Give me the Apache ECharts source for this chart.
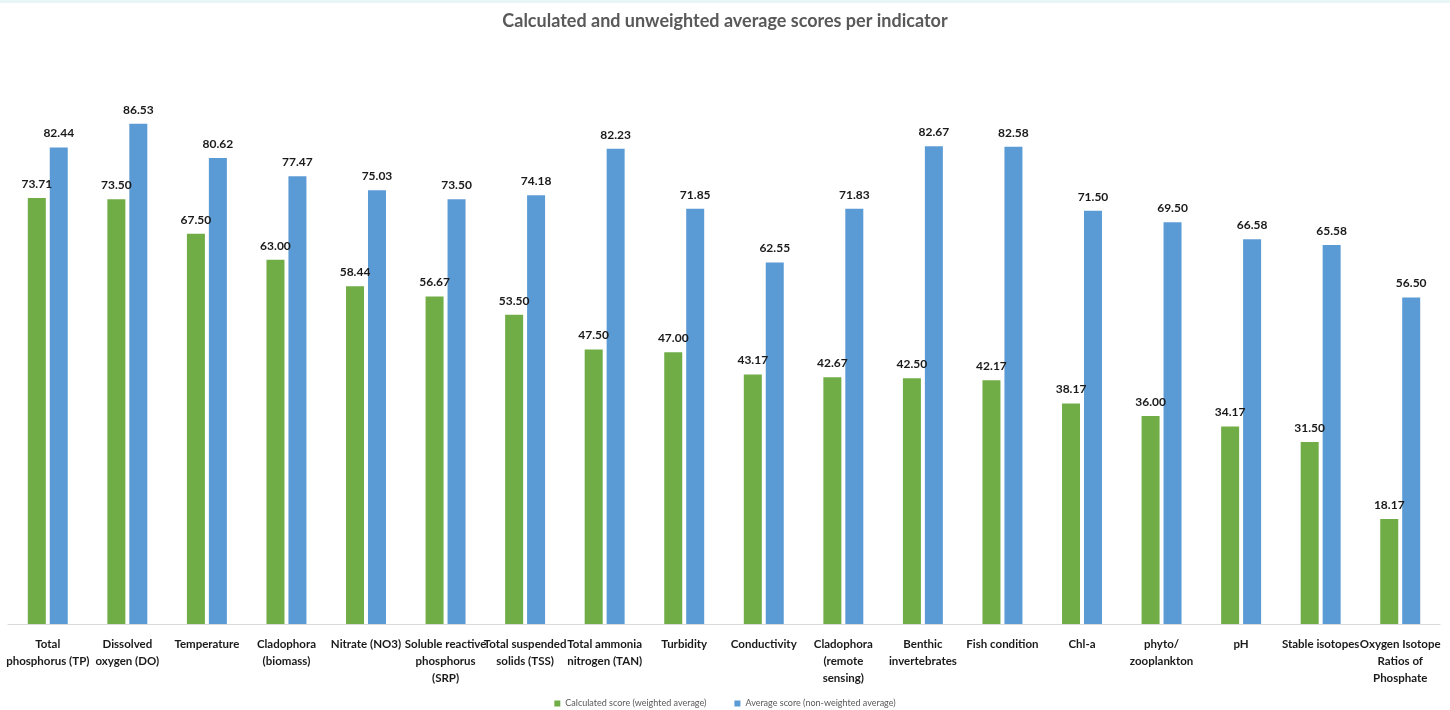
<!DOCTYPE html>
<html><head><meta charset="utf-8">
<script src="https://cdn.jsdelivr.net/npm/echarts@6/dist/echarts.min.js"></script>
<style>html,body{margin:0;padding:0;background:#fff}#c{width:1450px;height:710px}</style>
</head><body><div id="c"></div>
<script>
const categories = ["Total\nphosphorus (TP)","Dissolved\noxygen (DO)","Temperature","Cladophora\n(biomass)","Nitrate (NO3)","Soluble reactive\nphosphorus\n(SRP)","Total suspended\nsolids (TSS)","Total ammonia\nnitrogen (TAN)","Turbidity","Conductivity","Cladophora\n(remote\nsensing)","Benthic\ninvertebrates","Fish condition","Chl-a","phyto/\nzooplankton","pH","Stable isotopes","Oxygen Isotope\nRatios of\nPhosphate"];
const calculated = [73.71,73.50,67.50,63.00,58.44,56.67,53.50,47.50,47.00,43.17,42.67,42.50,42.17,38.17,36.00,34.17,31.50,18.17];
const average = [82.44,86.53,80.62,77.47,75.03,73.50,74.18,82.23,71.85,62.55,71.83,82.67,82.58,71.50,69.50,66.58,65.58,56.50];
const seriesNames = ["Calculated score (weighted average)","Average score (non-weighted average)"];

const chart = echarts.init(document.getElementById('c'));
const lbl = {show:true,position:'top',distance:8,formatter:p=>p.value.toFixed(2),fontFamily:'Lato',fontWeight:'bold',fontSize:12,color:'#1a1a1a'};
chart.setOption({
  animation:false,
  graphic:[{type:'rect',shape:{x:0,y:0,width:1450,height:3},style:{fill:'#e8f6f8'}}],
  title:{text:'Calculated and unweighted average scores per indicator',left:'center',top:7,
    textStyle:{fontFamily:'Lato',fontWeight:'bold',fontSize:18,color:'#595959'}},
  legend:{bottom:-3,left:'center',itemWidth:6,itemHeight:6,itemGap:28,icon:'rect',
    textStyle:{fontFamily:'Lato',fontSize:9,color:'#595959'}},
  grid:{left:8,right:10,top:46,bottom:86,containLabel:false},
  xAxis:{type:'category',data:categories,
    axisLine:{lineStyle:{color:'#d9d9d9'}},axisTick:{show:false},
    axisLabel:{interval:0,margin:12,lineHeight:17,fontFamily:'Lato',fontWeight:'bold',fontSize:11.5,color:'#1a1a1a'}},
  yAxis:{type:'value',min:0,max:100,show:false,splitLine:{show:false}},
  series:[
    {name:seriesNames[0],type:'bar',data:calculated,barWidth:18,barGap:'22%',itemStyle:{color:'#70AD47'},label:lbl},
    {name:seriesNames[1],type:'bar',data:average,barWidth:18,itemStyle:{color:'#5B9BD5'},label:lbl}
  ]
});
</script></body></html>
